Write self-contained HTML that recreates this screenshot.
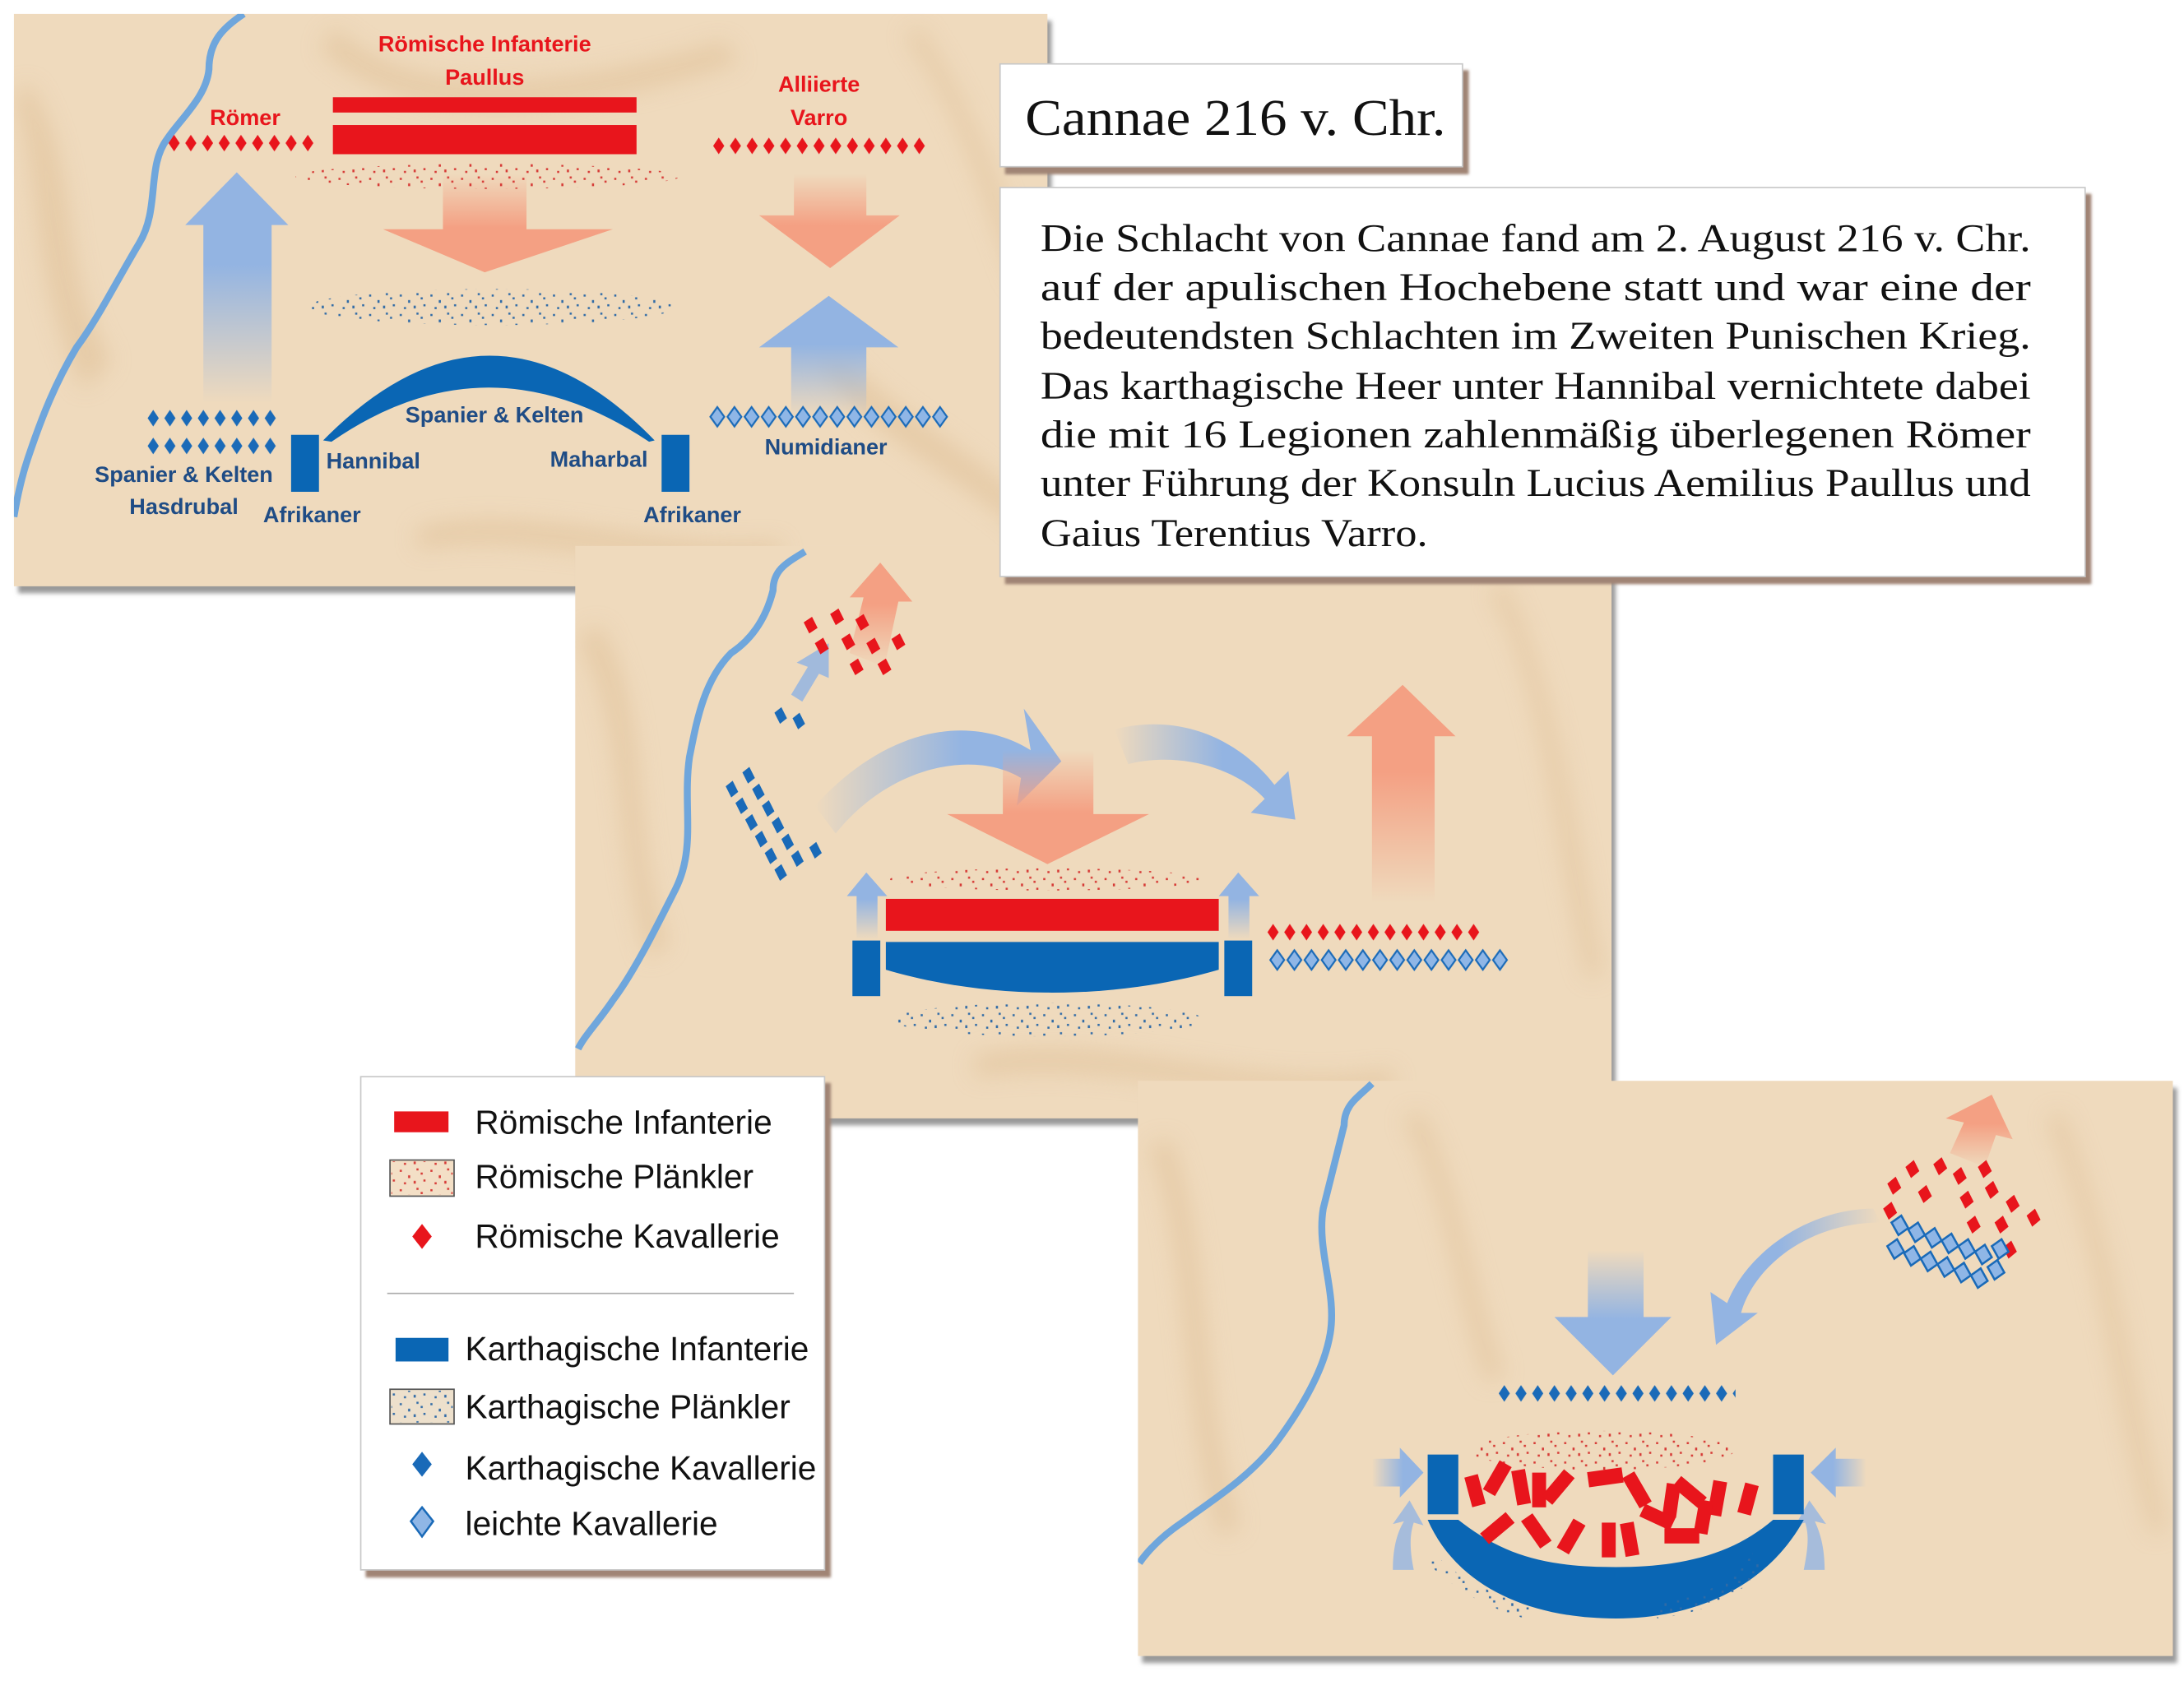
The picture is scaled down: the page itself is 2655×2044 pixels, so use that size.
<!DOCTYPE html>
<html><head><meta charset="utf-8"><style>
html,body{margin:0;padding:0;background:#fff;width:2655px;height:2044px;overflow:hidden}
svg{display:block}
.ml{font-family:"Liberation Sans Narrow","Liberation Sans",sans-serif;font-weight:bold;font-size:16px}
.red{fill:#e8151c}.navy{fill:#1f4c85}
.serif{font-family:"Liberation Serif",serif;fill:#111}
.lg{font-family:"Liberation Sans",sans-serif;font-size:24px;fill:#111}
</style></head><body>
<svg width="2655" height="2044" viewBox="0 0 1568 1210" preserveAspectRatio="none" xmlns="http://www.w3.org/2000/svg">
<defs>
<linearGradient id="pd" x1="0" y1="0" x2="0" y2="1"><stop offset="0" stop-color="#f4a083" stop-opacity="0"/><stop offset="0.55" stop-color="#f4a083"/></linearGradient>
<linearGradient id="pu" x1="0" y1="1" x2="0" y2="0"><stop offset="0" stop-color="#f4a083" stop-opacity="0"/><stop offset="0.6" stop-color="#f4a083"/></linearGradient>
<linearGradient id="bu" x1="0" y1="1" x2="0" y2="0"><stop offset="0" stop-color="#93b4e2" stop-opacity="0"/><stop offset="0.6" stop-color="#93b4e2"/></linearGradient>
<linearGradient id="bd" x1="0" y1="0" x2="0" y2="1"><stop offset="0" stop-color="#93b4e2" stop-opacity="0"/><stop offset="0.55" stop-color="#93b4e2"/></linearGradient>
<linearGradient id="br" x1="0" y1="0" x2="1" y2="0"><stop offset="0" stop-color="#93b4e2" stop-opacity="0"/><stop offset="0.6" stop-color="#93b4e2"/></linearGradient>
<linearGradient id="bl" x1="1" y1="0" x2="0" y2="0"><stop offset="0" stop-color="#93b4e2" stop-opacity="0"/><stop offset="0.6" stop-color="#93b4e2"/></linearGradient>
<pattern id="rd" width="12" height="14" patternUnits="userSpaceOnUse"><path d="M6,1 L10,7 L6,13 L2,7Z" fill="#e8151c"/></pattern>
<pattern id="bdm" width="12" height="14" patternUnits="userSpaceOnUse"><path d="M6,1 L10,7 L6,13 L2,7Z" fill="#1a6ab8"/></pattern>
<pattern id="ld" width="12.3" height="16" patternUnits="userSpaceOnUse"><path d="M6,1 L11,8 L6,15 L1,8Z" fill="#8fb6e6" stroke="#1a6ab8" stroke-width="1.3"/></pattern>
<pattern id="rdots" width="22" height="14" patternUnits="userSpaceOnUse"><g fill="#d63a36"><rect x="1" y="2" width="1.5" height="1.5"/><rect x="7" y="6" width="1.5" height="2"/><rect x="13" y="1" width="1.5" height="1.5"/><rect x="18" y="9" width="1.5" height="1.5"/><rect x="4" y="11" width="1.5" height="1.5"/><rect x="11" y="10" width="1.5" height="2"/><rect x="16" y="4" width="1.5" height="1.5"/></g></pattern>
<pattern id="bdots" width="22" height="14" patternUnits="userSpaceOnUse"><g fill="#2f6aa6"><rect x="1" y="2" width="1.5" height="1.5"/><rect x="7" y="6" width="1.5" height="2"/><rect x="13" y="1" width="1.5" height="1.5"/><rect x="18" y="9" width="1.5" height="1.5"/><rect x="4" y="11" width="1.5" height="1.5"/><rect x="11" y="10" width="1.5" height="2"/><rect x="16" y="4" width="1.5" height="1.5"/></g></pattern>
<filter id="blur"><feGaussianBlur stdDeviation="8"/></filter>
<filter id="sh" x="-5%" y="-5%" width="115%" height="115%"><feDropShadow dx="3" dy="5" stdDeviation="1.5" flood-color="#9a9a9a"/></filter>
<filter id="shb" x="-5%" y="-5%" width="115%" height="115%"><feDropShadow dx="4" dy="5" stdDeviation="1" flood-color="#a08474"/></filter>
<clipPath id="c1"><rect x="10" y="10" width="742" height="412"/></clipPath>
<clipPath id="c2"><rect x="413" y="393" width="744" height="412"/></clipPath>
<clipPath id="c3"><rect x="817" y="778" width="743" height="414"/></clipPath>
</defs>

<!-- PANEL 1 -->
<rect x="10" y="10" width="742" height="412" fill="#efdabd" filter="url(#sh)"/>
<g clip-path="url(#c1)">
 <g filter="url(#blur)" fill="#e0c199" opacity="0.6">
  <path d="M20,60 C60,120 40,200 80,260 L60,280 C20,200 30,120 10,70Z"/>
  <path d="M240,20 C300,80 420,60 520,30 L530,45 C420,80 300,100 230,35Z"/>
  <path d="M600,250 C640,300 700,320 752,380 L752,400 C690,340 630,320 590,265Z"/>
  <path d="M300,380 C380,360 480,400 560,390 L560,405 C470,415 380,380 300,395Z"/>
  <path d="M660,20 C700,80 720,140 740,200 L730,205 C705,140 690,80 650,25Z"/>
 </g>
 <path d="M175,10 C160,20 150,30 150,50 C148,70 130,85 120,100 C105,120 115,150 100,175 C85,200 70,230 55,250 C40,275 30,300 20,330 C15,345 12,360 10,372" fill="none" stroke="#6fa6dc" stroke-width="5"/>
 <path d="M146,290 L146,162 L133,162 L170,124 L207,162 L195,162 L195,290Z" fill="url(#bu)"/>
 <path d="M318,125 L378,125 L378,165 L440,165 L348,196 L275,165 L318,165Z" fill="url(#pd)"/>
 <path d="M570,125 L622,125 L622,155 L646,155 L596,193 L545,155 L570,155Z" fill="url(#pd)"/>
 <path d="M568,300 L568,250 L545,250 L595,213 L645,250 L622,250 L622,300Z" fill="url(#bu)"/>
 <rect x="239" y="70" width="218" height="11" fill="#e8151c"/>
 <rect x="239" y="90" width="218" height="21" fill="#e8151c"/>
 <g transform="translate(119,96)"><rect width="108" height="14" fill="url(#rd)"/></g>
 <g transform="translate(510,98)"><rect width="156" height="14" fill="url(#rd)"/></g>
 <ellipse cx="350" cy="127" rx="138" ry="9" fill="url(#rdots)"/>
 <ellipse cx="353" cy="221" rx="132" ry="13" fill="url(#bdots)"/>
 <path d="M232,317 Q352,195 470,317 L466,318 Q350,240 238,318Z" fill="#0a66b4"/>
 <rect x="209" y="313" width="20" height="41" fill="#0a66b4"/>
 <rect x="475" y="313" width="20" height="41" fill="#0a66b4"/>
 <g transform="translate(104,294)"><rect width="96" height="14" fill="url(#bdm)"/></g>
 <g transform="translate(104,314)"><rect width="96" height="14" fill="url(#bdm)"/></g>
 <g transform="translate(509,292)"><rect width="172" height="16" fill="url(#ld)"/></g>
 <text class="ml red" x="348" y="37" text-anchor="middle">Römische Infanterie</text>
 <text class="ml red" x="348" y="61" text-anchor="middle">Paullus</text>
 <text class="ml red" x="176" y="90" text-anchor="middle">Römer</text>
 <text class="ml red" x="588" y="66" text-anchor="middle">Alliierte</text>
 <text class="ml red" x="588" y="90" text-anchor="middle">Varro</text>
 <text class="ml navy" x="355" y="304" text-anchor="middle">Spanier &amp; Kelten</text>
 <text class="ml navy" x="268" y="337" text-anchor="middle">Hannibal</text>
 <text class="ml navy" x="430" y="336" text-anchor="middle">Maharbal</text>
 <text class="ml navy" x="593" y="327" text-anchor="middle">Numidianer</text>
 <text class="ml navy" x="132" y="347" text-anchor="middle">Spanier &amp; Kelten</text>
 <text class="ml navy" x="132" y="370" text-anchor="middle">Hasdrubal</text>
 <text class="ml navy" x="224" y="376" text-anchor="middle">Afrikaner</text>
 <text class="ml navy" x="497" y="376" text-anchor="middle">Afrikaner</text>
</g>

<!-- PANEL 2 -->
<rect x="413" y="393" width="744" height="412" fill="#efdabd" filter="url(#sh)"/>
<g clip-path="url(#c2)">
 <g filter="url(#blur)" fill="#e0c199" opacity="0.6">
  <path d="M430,450 C470,520 450,600 480,680 L465,690 C440,600 450,520 415,460Z"/>
  <path d="M1080,420 C1120,500 1130,600 1150,700 L1140,705 C1115,600 1110,500 1070,425Z"/>
  <path d="M700,760 C800,740 900,790 1000,770 L1000,785 C900,800 800,760 700,775Z"/>
 </g>
 <path d="M578,397 C565,405 555,410 555,425 C550,445 540,460 525,470 C505,490 500,520 495,545 C490,580 500,610 485,640 C470,670 455,700 440,720 C430,735 420,745 415,755" fill="none" stroke="#6fa6dc" stroke-width="5"/>
 <path d="M610,470 L620,430 L610,430 L632,405 L655,433 L645,433 L635,480Z" fill="url(#pu)"/>
 <path d="M568,500 L580,480 L572,477 L595,463 L595,488 L588,485 L576,505Z" fill="#93b4e2" opacity="0.85"/>
 <path d="M585,580 C640,520 700,515 740,540 L735,510 L762,548 L730,580 L733,560 C700,540 640,550 600,600Z" fill="url(#br)"/>
 <path d="M800,525 C860,510 900,545 915,565 L925,555 L930,590 L898,585 L908,575 C890,555 850,540 810,550Z" fill="url(#br)"/>
 <path d="M720,540 L785,540 L785,586 L825,586 L752,622 L680,586 L720,586Z" fill="url(#pd)"/>
 <path d="M985,650 L985,530 L967,530 L1007,493 L1045,530 L1030,530 L1030,650Z" fill="url(#pu)"/>
 <path d="M615,676 L615,645 L608,645 L622,628 L637,645 L630,645 L630,676Z" fill="url(#bu)"/>
 <path d="M882,676 L882,645 L875,645 L889,628 L904,645 L897,645 L897,676Z" fill="url(#bu)"/>
 <g fill="#e8151c">
  <path d="M577,448 l6,-4 l4,8 l-6,4z"/><path d="M596,442 l6,-4 l4,8 l-6,4z"/><path d="M614,446 l6,-4 l4,8 l-6,4z"/>
  <path d="M585,463 l6,-4 l4,8 l-6,4z"/><path d="M604,460 l6,-4 l4,8 l-6,4z"/><path d="M622,463 l6,-4 l4,8 l-6,4z"/><path d="M640,460 l6,-4 l4,8 l-6,4z"/>
  <path d="M610,478 l6,-4 l4,8 l-6,4z"/><path d="M630,478 l6,-4 l4,8 l-6,4z"/>
 </g>
 <g fill="#1a6ab8">
  <path d="M556,513 l5,-4 l4,8 l-5,4z"/><path d="M569,517 l5,-4 l4,8 l-5,4z"/>
  <path d="M521,566 l5,-4 l4,8 l-5,4z"/><path d="M528,578 l5,-4 l4,8 l-5,4z"/><path d="M535,590 l5,-4 l4,8 l-5,4z"/><path d="M542,602 l5,-4 l4,8 l-5,4z"/><path d="M549,614 l5,-4 l4,8 l-5,4z"/><path d="M556,626 l5,-4 l4,8 l-5,4z"/>
  <path d="M533,556 l5,-4 l4,8 l-5,4z"/><path d="M540,568 l5,-4 l4,8 l-5,4z"/><path d="M547,580 l5,-4 l4,8 l-5,4z"/><path d="M554,592 l5,-4 l4,8 l-5,4z"/><path d="M561,604 l5,-4 l4,8 l-5,4z"/><path d="M568,616 l5,-4 l4,8 l-5,4z"/><path d="M581,610 l5,-4 l4,8 l-5,4z"/>
 </g>
 <ellipse cx="752" cy="633" rx="113" ry="8" fill="url(#rdots)"/>
 <rect x="636" y="647" width="239" height="23" fill="#e8151c"/>
 <path d="M636,678 L875,678 L875,698 C800,720 710,720 636,698Z" fill="#0a66b4"/>
 <rect x="612" y="677" width="20" height="40" fill="#0a66b4"/>
 <rect x="879" y="677" width="20" height="40" fill="#0a66b4"/>
 <ellipse cx="752" cy="734" rx="112" ry="12" fill="url(#bdots)"/>
 <g transform="translate(908,664)"><rect width="156" height="14" fill="url(#rd)"/></g>
 <g transform="translate(911,683)"><rect width="172" height="16" fill="url(#ld)"/></g>
</g>

<!-- PANEL 3 -->
<rect x="817" y="778" width="743" height="414" fill="#efdabd" filter="url(#sh)"/>
<g clip-path="url(#c3)">
 <g filter="url(#blur)" fill="#e0c199" opacity="0.6">
  <path d="M840,820 C870,900 860,1000 890,1100 L875,1105 C845,1000 855,900 825,825Z"/>
  <path d="M1480,800 C1520,900 1530,1000 1555,1100 L1545,1105 C1515,1000 1510,900 1470,805Z"/>
  <path d="M1020,800 C1050,860 1060,940 1080,990 L1068,995 C1045,940 1040,860 1008,805Z"/>
 </g>
 <path d="M985,780 C975,790 965,795 965,810 C960,830 955,850 950,870 C945,900 960,930 955,960 C950,990 930,1020 915,1040 C895,1065 870,1080 850,1095 C835,1105 825,1115 818,1125" fill="none" stroke="#6fa6dc" stroke-width="5"/>
 <path d="M1400,830 L1410,808 L1397,805 L1430,788 L1445,820 L1433,817 L1425,840Z" fill="url(#pu)"/>
 <g fill="#e8151c">
  <path d="M1355,852 l6,-5 l4,8 l-6,5z"/><path d="M1368,840 l6,-5 l4,8 l-6,5z"/><path d="M1388,838 l6,-5 l4,8 l-6,5z"/><path d="M1402,845 l6,-5 l4,8 l-6,5z"/><path d="M1420,840 l6,-5 l4,8 l-6,5z"/>
  <path d="M1352,870 l6,-5 l4,8 l-6,5z"/><path d="M1377,858 l6,-5 l4,8 l-6,5z"/><path d="M1407,862 l6,-5 l4,8 l-6,5z"/><path d="M1425,855 l6,-5 l4,8 l-6,5z"/><path d="M1440,865 l6,-5 l4,8 l-6,5z"/>
  <path d="M1412,880 l6,-5 l4,8 l-6,5z"/><path d="M1432,880 l6,-5 l4,8 l-6,5z"/><path d="M1455,875 l6,-5 l4,8 l-6,5z"/><path d="M1438,898 l6,-5 l4,8 l-6,5z"/>
 </g>
 <g fill="#8fb6e6" stroke="#1a6ab8" stroke-width="1.5">
  <path d="M1358,880 l7,-5 l5,9 l-7,5z"/><path d="M1370,885 l7,-5 l5,9 l-7,5z"/><path d="M1382,889 l7,-5 l5,9 l-7,5z"/><path d="M1394,893 l7,-5 l5,9 l-7,5z"/><path d="M1406,897 l7,-5 l5,9 l-7,5z"/><path d="M1418,901 l7,-5 l5,9 l-7,5z"/><path d="M1430,897 l7,-5 l5,9 l-7,5z"/>
  <path d="M1355,897 l7,-5 l5,9 l-7,5z"/><path d="M1367,902 l7,-5 l5,9 l-7,5z"/><path d="M1379,906 l7,-5 l5,9 l-7,5z"/><path d="M1391,910 l7,-5 l5,9 l-7,5z"/><path d="M1403,914 l7,-5 l5,9 l-7,5z"/><path d="M1415,918 l7,-5 l5,9 l-7,5z"/><path d="M1427,912 l7,-5 l5,9 l-7,5z"/>
 </g>
 <path d="M1350,880 C1300,880 1260,910 1250,945 L1262,945 L1232,968 L1228,930 L1240,938 C1255,900 1300,870 1345,870Z" fill="url(#bl)"/>
 <path d="M1140,900 L1180,900 L1180,948 L1200,948 L1158,990 L1116,948 L1140,948Z" fill="url(#bd)"/>
 <g transform="translate(1074,996)"><rect width="172" height="14" fill="url(#bdm)"/></g>
 <ellipse cx="1150" cy="1044" rx="95" ry="14" fill="url(#rdots)"/>
 <path d="M985,1050 L1005,1050 L1005,1042 L1022,1060 L1005,1078 L1005,1070 L985,1070Z" fill="url(#br)"/>
 <path d="M1340,1050 L1318,1050 L1318,1042 L1300,1060 L1318,1078 L1318,1070 L1340,1070Z" fill="url(#bl)"/>
 <path d="M1000,1130 C1000,1110 1005,1100 1008,1095 L1000,1097 L1012,1080 L1022,1098 L1015,1096 C1012,1105 1012,1115 1015,1130Z" fill="#93b4e2" opacity="0.8"/>
 <path d="M1310,1130 C1310,1110 1305,1100 1303,1095 L1311,1097 L1299,1080 L1289,1098 L1296,1096 C1299,1105 1298,1115 1295,1130Z" fill="#93b4e2" opacity="0.8"/>
 <rect x="1025" y="1047" width="22" height="43" fill="#0a66b4"/>
 <rect x="1273" y="1047" width="22" height="43" fill="#0a66b4"/>
 <path d="M1025,1094 L1047,1094 C1080,1120 1110,1128 1160,1128 C1210,1128 1245,1118 1273,1094 L1295,1094 C1270,1140 1220,1165 1160,1165 C1095,1165 1045,1140 1025,1094Z" fill="#0a66b4"/>
 <g fill="#e8151c">
  <rect x="1054" y="1062" width="10" height="22" transform="rotate(-15 1059 1073)"/>
  <rect x="1070" y="1052" width="10" height="24" transform="rotate(30 1075 1064)"/>
  <rect x="1087" y="1058" width="10" height="25" transform="rotate(-10 1092 1070)"/>
  <rect x="1100" y="1060" width="10" height="25"/>
  <rect x="1114" y="1058" width="10" height="25" transform="rotate(40 1119 1070)"/>
  <rect x="1140" y="1058" width="25" height="11" transform="rotate(-8 1152 1063)"/>
  <rect x="1170" y="1060" width="10" height="25" transform="rotate(-30 1175 1072)"/>
  <rect x="1195" y="1068" width="10" height="24" transform="rotate(8 1200 1080)"/>
  <rect x="1208" y="1062" width="10" height="24" transform="rotate(-50 1213 1074)"/>
  <rect x="1228" y="1066" width="10" height="25" transform="rotate(10 1233 1078)"/>
  <rect x="1250" y="1068" width="10" height="22" transform="rotate(15 1255 1079)"/>
  <rect x="1070" y="1088" width="10" height="24" transform="rotate(50 1075 1100)"/>
  <rect x="1098" y="1090" width="10" height="24" transform="rotate(-35 1103 1102)"/>
  <rect x="1123" y="1094" width="10" height="24" transform="rotate(30 1128 1106)"/>
  <rect x="1150" y="1096" width="10" height="25"/>
  <rect x="1165" y="1096" width="10" height="24" transform="rotate(-10 1170 1108)"/>
  <rect x="1185" y="1080" width="10" height="24" transform="rotate(-65 1190 1092)"/>
  <rect x="1195" y="1100" width="25" height="11"/>
  <rect x="1218" y="1080" width="10" height="24" transform="rotate(10 1223 1092)"/>
 </g>
 <path d="M1025,1125 C1040,1140 1060,1155 1095,1165 L1100,1155 C1070,1148 1045,1135 1030,1118Z" fill="url(#bdots)"/>
 <path d="M1190,1165 C1230,1160 1255,1145 1268,1125 L1258,1118 C1245,1140 1220,1150 1185,1155Z" fill="url(#bdots)"/>
</g>

<!-- TITLE BOX -->
<rect x="718" y="46" width="332" height="74" fill="#fff" stroke="#c8c8c8" stroke-width="1" filter="url(#shb)"/>
<text class="serif" x="736" y="97" font-size="37" textLength="302" lengthAdjust="spacingAndGlyphs">Cannae 216 v. Chr.</text>

<!-- TEXT BOX -->
<rect x="718" y="135" width="779" height="280" fill="#fff" stroke="#c8c8c8" stroke-width="1" filter="url(#shb)"/>
<g class="serif" font-size="28">
<text x="747" y="181" textLength="711" lengthAdjust="spacingAndGlyphs">Die Schlacht von Cannae fand am 2. August 216 v. Chr.</text>
<text x="747" y="216" textLength="711" lengthAdjust="spacingAndGlyphs">auf der apulischen Hochebene statt und war eine der</text>
<text x="747" y="251" textLength="711" lengthAdjust="spacingAndGlyphs">bedeutendsten Schlachten im Zweiten Punischen Krieg.</text>
<text x="747" y="287" textLength="711" lengthAdjust="spacingAndGlyphs">Das karthagische Heer unter Hannibal vernichtete dabei</text>
<text x="747" y="322" textLength="711" lengthAdjust="spacingAndGlyphs">die mit 16 Legionen zahlenmäßig überlegenen Römer</text>
<text x="747" y="357" textLength="711" lengthAdjust="spacingAndGlyphs">unter Führung der Konsuln Lucius Aemilius Paullus und</text>
<text x="747" y="393" textLength="278" lengthAdjust="spacingAndGlyphs">Gaius Terentius Varro.</text>
</g>

<!-- LEGEND -->
<rect x="259" y="775" width="333" height="355" fill="#fff" stroke="#c8c8c8" stroke-width="1" filter="url(#shb)"/>
<rect x="283" y="800" width="39" height="15" fill="#e8151c"/>
<rect x="280" y="835" width="46" height="26" fill="#f3dfc6" stroke="#555" stroke-width="1"/>
<rect x="281" y="836" width="44" height="24" fill="url(#rdots)"/>
<path d="M303,881 L310,890 L303,899 L296,890Z" fill="#e8151c"/>
<line x1="278" y1="931" x2="570" y2="931" stroke="#aaa" stroke-width="1"/>
<rect x="284" y="963" width="38" height="17" fill="#0a66b4"/>
<rect x="280" y="1000" width="46" height="25" fill="#ede0cc" stroke="#555" stroke-width="1"/>
<rect x="281" y="1001" width="44" height="23" fill="url(#bdots)"/>
<path d="M303,1045 L310,1054 L303,1063 L296,1054Z" fill="#1a6ab8"/>
<path d="M303,1085 L311,1095 L303,1106 L295,1095Z" fill="#8fb6e6" stroke="#1a6ab8" stroke-width="1.5"/>
<text class="lg" x="341" y="816">Römische Infanterie</text>
<text class="lg" x="341" y="855">Römische Plänkler</text>
<text class="lg" x="341" y="898">Römische Kavallerie</text>
<text class="lg" x="334" y="979">Karthagische Infanterie</text>
<text class="lg" x="334" y="1021">Karthagische Plänkler</text>
<text class="lg" x="334" y="1065">Karthagische Kavallerie</text>
<text class="lg" x="334" y="1105">leichte Kavallerie</text>
</svg>
</body></html>
